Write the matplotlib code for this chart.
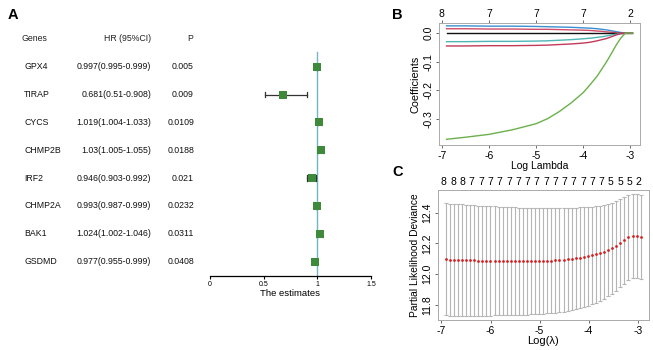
import numpy as np
import matplotlib
matplotlib.use("Agg")
import matplotlib.pyplot as plt
import matplotlib.transforms as mtransforms

plt.rcParams['font.family'] = ['Liberation Sans', 'DejaVu Sans']

# ---------------- Data ----------------
genes = ["GPX4", "TIRAP", "CYCS", "CHMP2B", "IRF2", "CHMP2A", "BAK1", "GSDMD"]
hr = [0.997, 0.681, 1.019, 1.03, 0.946, 0.993, 1.024, 0.977]
hr_lo = [0.995, 0.51, 1.004, 1.005, 0.903, 0.987, 1.002, 0.955]
hr_hi = [0.999, 0.908, 1.033, 1.055, 0.992, 0.999, 1.046, 0.999]
hr_text = ["0.997(0.995-0.999)", "0.681(0.51-0.908)", "1.019(1.004-1.033)",
           "1.03(1.005-1.055)", "0.946(0.903-0.992)", "0.993(0.987-0.999)",
           "1.024(1.002-1.046)", "0.977(0.955-0.999)"]
p_text = ["0.005", "0.009", "0.0109", "0.0188", "0.021", "0.0232", "0.0311", "0.0408"]
forest_ticks = [0, 0.5, 1, 1.5]
forest_ticklabels = ["0", "0.5", "1", "1.5"]

# Panel B: coefficient paths (log lambda, coefficient)
path_loglam = [-6.9, -6.5, -6.0, -5.5, -5.0, -4.75, -4.5, -4.25, -4.0, -3.85, -3.7, -3.6,
               -3.5, -3.4, -3.3, -3.2, -3.1, -2.95]
coef_blue = [0.025, 0.025, 0.024, 0.024, 0.023, 0.022, 0.021, 0.020, 0.018, 0.017, 0.015, 0.013,
             0.011, 0.008, 0.005, 0.002, 0.0, 0.0]
coef_red1 = [0.015, 0.015, 0.014, 0.014, 0.013, 0.013, 0.012, 0.011, 0.010, 0.009, 0.007, 0.006,
             0.004, 0.003, 0.001, 0.0, 0.0, 0.0]
coef_black = [0.0] * 18
coef_teal = [-0.030, -0.030, -0.029, -0.029, -0.028, -0.027, -0.025, -0.023, -0.020, -0.018, -0.015, -0.013,
             -0.010, -0.007, -0.004, -0.002, 0.0, 0.0]
coef_red2 = [-0.045, -0.045, -0.044, -0.044, -0.043, -0.042, -0.040, -0.038, -0.035, -0.032, -0.027, -0.023,
             -0.019, -0.013, -0.007, -0.002, 0.0, 0.0]
coef_green = [-0.370, -0.363, -0.353, -0.337, -0.316, -0.298, -0.273, -0.243, -0.208, -0.180, -0.150, -0.125,
              -0.100, -0.072, -0.043, -0.018, 0.0, 0.0]
b_top_pos = [-7, -6, -5, -4, -3]
b_top_labels = ["8", "7", "7", "7", "2"]

# Panel C: cross-validation curve
cv_mean = [12.095, 12.094, 12.093, 12.092, 12.091, 12.090, 12.089, 12.088, 12.087, 12.086,
           12.086, 12.085, 12.085, 12.084, 12.084, 12.083, 12.083, 12.083, 12.082, 12.082,
           12.082, 12.082, 12.083, 12.083, 12.084, 12.085, 12.086, 12.088, 12.090, 12.092,
           12.095, 12.098, 12.101, 12.105, 12.110, 12.115, 12.121, 12.128, 12.136, 12.145,
           12.156, 12.168, 12.183, 12.200, 12.220, 12.238, 12.246, 12.247, 12.242]
cv_se = [0.365, 0.365, 0.364, 0.364, 0.363, 0.362, 0.361, 0.360, 0.359, 0.358,
         0.357, 0.356, 0.355, 0.354, 0.353, 0.352, 0.351, 0.350, 0.349, 0.348,
         0.347, 0.346, 0.345, 0.344, 0.343, 0.342, 0.341, 0.340, 0.339, 0.337,
         0.335, 0.333, 0.331, 0.328, 0.325, 0.322, 0.318, 0.314, 0.310, 0.305,
         0.300, 0.296, 0.292, 0.288, 0.283, 0.278, 0.275, 0.274, 0.272]
cv_loglam = np.linspace(-6.91, -2.94, len(cv_mean))
c_top_labels = ["8", "8", "8"] + ["7"] * 15 + ["5", "5", "5", "2"]

# ---------------- Figure ----------------
W, H = 653, 350
fig = plt.figure(figsize=(W / 100, H / 100), dpi=100)


def px_axes(left, top, right, bottom):
    return fig.add_axes([left / W, 1 - bottom / H, (right - left) / W, (bottom - top) / H])


# ---- Panel A ----
axA = px_axes(210, 30, 371, 276)
n = len(genes)
rows = np.arange(n)
axA.set_xlim(0, 1.5)
axA.set_ylim(7.515, -1.32)
for s in ["top", "right", "left"]:
    axA.spines[s].set_visible(False)
axA.spines["bottom"].set_linewidth(0.9)
axA.set_yticks([])
axA.set_xticks(forest_ticks)
axA.set_xticklabels(forest_ticklabels, fontsize=5)
axA.tick_params(axis="x", length=2.5, width=0.8, pad=1)
axA.set_xlabel("The estimates", fontsize=6.8, labelpad=1)
axA.plot([1, 1], [-0.53, 7.515], color="#6fb7c9", lw=1.0, zorder=1)
for i in rows:
    axA.plot([hr_lo[i], hr_hi[i]], [i, i], color="#333333", lw=0.9, zorder=2)
    for xe in (hr_lo[i], hr_hi[i]):
        axA.plot([xe, xe], [i - 0.1, i + 0.1], color="#333333", lw=0.9, zorder=2)
axA.scatter(hr, rows, marker="s", s=40, color="#3f8a3a", zorder=3, linewidths=0)

trA = mtransforms.blended_transform_factory(fig.transFigure, axA.transData)
fs_t = 6.3
axA.text(22 / W, -1, "Genes", transform=trA, fontsize=fs_t, va="center", ha="left", color="#222222")
axA.text(151 / W, -1, "HR (95%CI)", transform=trA, fontsize=fs_t, va="center", ha="right", color="#222222")
axA.text(190 / W, -1, "P", transform=trA, fontsize=fs_t, va="center", ha="center", color="#222222")
for i in rows:
    axA.text(24 / W, i, genes[i], transform=trA, fontsize=fs_t, va="center", ha="left", color="#111111")
    axA.text(151 / W, i, hr_text[i], transform=trA, fontsize=fs_t, va="center", ha="right", color="#111111")
    axA.text(194 / W, i, p_text[i], transform=trA, fontsize=fs_t, va="center", ha="right", color="#111111")

# ---- Panel B ----
axB = px_axes(439, 23, 640, 145)
lines = [(coef_blue, "#3a8fd0"), (coef_red1, "#cf4d68"), (coef_black, "#111111"),
         (coef_teal, "#4fb5b5"), (coef_red2, "#c23a5a"), (coef_green, "#6ab04c")]
for ys, col in lines:
    axB.plot(path_loglam, ys, color=col, lw=1.0)
axB.set_xlim(-7.06, -2.79)
axB.set_ylim(-0.39, 0.035)
axB.set_xticks([-7, -6, -5, -4, -3])
axB.set_xticklabels(["-7", "-6", "-5", "-4", "-3"])
axB.set_yticks([0.0, -0.1, -0.2, -0.3])
axB.set_yticklabels(["0.0", "-0.1", "-0.2", "-0.3"], rotation=90, va="center")
axB.tick_params(labelsize=7.5, length=2.5, width=0.6, pad=1.5, color="#555555")
axB.set_xlabel("Log Lambda", fontsize=7.5, labelpad=0)
axB.set_ylabel("Coefficients", fontsize=7.8, labelpad=2)
for s in axB.spines.values():
    s.set_color("#aaaaaa")
    s.set_linewidth(0.7)
axBt = axB.secondary_xaxis("top")
axBt.set_xticks(b_top_pos)
axBt.set_xticklabels(b_top_labels)
axBt.tick_params(labelsize=7.5, length=2, width=0.6, pad=1, color="#555555")
axBt.spines["top"].set_visible(False)

# ---- Panel C ----
axC = px_axes(438, 190, 649, 320)
cv_mean_a = np.array(cv_mean)
cv_se_a = np.array(cv_se)
axC.errorbar(cv_loglam, cv_mean_a, yerr=cv_se_a, fmt="none", ecolor="#b5b5b5",
             elinewidth=0.8, capsize=1.6, capthick=0.8)
axC.scatter(cv_loglam, cv_mean_a, s=4, color="#d62020", zorder=3, linewidths=0)
axC.set_xlim(-7.07, -2.77)
axC.set_ylim(11.70, 12.547)
axC.set_xticks([-7, -6, -5, -4, -3])
axC.set_xticklabels(["-7", "-6", "-5", "-4", "-3"])
axC.set_yticks([11.8, 12.0, 12.2, 12.4])
axC.set_yticklabels(["11.8", "12.0", "12.2", "12.4"], rotation=90, va="center")
axC.tick_params(labelsize=7.5, length=2.5, width=0.6, pad=1.5, color="#555555")
axC.set_xlabel("Log(λ)", fontsize=8, labelpad=0)
axC.set_ylabel("Partial Likelihood Deviance", fontsize=7.4, labelpad=2)
for s in axC.spines.values():
    s.set_color("#aaaaaa")
    s.set_linewidth(0.7)
c_top_pos = np.linspace(-6.95, -2.98, len(c_top_labels))
axCt = axC.secondary_xaxis("top")
axCt.set_xticks(c_top_pos)
axCt.set_xticklabels(c_top_labels)
axCt.tick_params(labelsize=7.5, length=0, pad=2)
axCt.spines["top"].set_visible(False)

# ---- Panel letters ----
fig.text(8 / W, 1 - 15 / H, "A", fontsize=10.5, fontweight="bold", va="center", ha="left")
fig.text(392 / W, 1 - 15 / H, "B", fontsize=10.5, fontweight="bold", va="center", ha="left")
fig.text(392 / W, 1 - 172 / H, "C", fontsize=10.5, fontweight="bold", va="center", ha="left")

fig.savefig("out.png", dpi=100)
